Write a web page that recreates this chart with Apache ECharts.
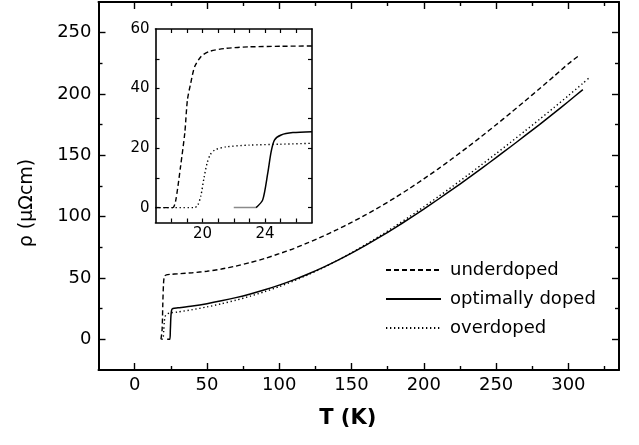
<!DOCTYPE html>
<html>
<head>
<meta charset="utf-8">
<script src="https://cdn.jsdelivr.net/npm/echarts@6/dist/echarts.min.js"></script>
<style>
  html, body { margin: 0; padding: 0; background: #fff; }
  #chart { width: 639px; height: 445px; }
</style>
</head>
<body>
<div id="chart"></div>
<script>
// Resistivity ρ(T) of three samples: full range and a close-up of the superconducting transition.

// ---- main panel: underdoped ----
const underT   = [18.2, 19.0, 19.5, 20.0, 20.6, 22, 25, 30, 40, 50, 60, 70, 80, 90, 100, 110, 120, 130, 140, 150,
                  160, 170, 180, 190, 200, 210, 220, 230, 240, 250, 260, 270, 280, 290, 300, 307.5];
const underRho = [0, 8, 30, 46, 51.5, 52.6, 53, 53.4, 54.3, 55.5, 57.3, 59.7, 62.6, 65.9, 69.8, 74, 78.8, 83.9, 89.4, 95.3,
                  101.6, 108.3, 115.4, 122.9, 130.8, 139, 147.6, 156.4, 165.5, 174.9, 184.5, 194.3, 204.3, 214.4, 224.7, 231.5];

// ---- main panel: optimally doped ----
const optT   = [22.5, 24.3, 24.7, 25.1, 25.6, 26.5, 30, 40, 50, 60, 70, 80, 90, 100, 110, 120, 130, 140, 150,
                160, 170, 180, 190, 200, 210, 220, 230, 240, 250, 260, 270, 280, 290, 300, 310];
const optRho = [0, 0, 8, 19, 24, 25.2, 25.7, 27.2, 29.1, 31.4, 34, 37, 40.4, 44.2, 48.5, 53.3, 58.5, 64.2, 70.3,
                76.8, 83.7, 90.9, 98.4, 106.2, 114.2, 122.4, 130.8, 139.4, 148.1, 157, 166, 175.1, 184.4, 193.9, 203.6];

// ---- main panel: overdoped ----
const overT   = [18.5, 19.6, 20.1, 20.5, 21, 22, 24, 30, 40, 50, 60, 70, 80, 90, 100, 110, 120, 130, 140, 150,
                 160, 170, 180, 190, 200, 210, 220, 230, 240, 250, 260, 270, 280, 290, 300, 310, 314];
const overRho = [0, 0.5, 7, 14, 18.5, 20.2, 21.4, 22.3, 24.2, 26.4, 29, 31.9, 35.2, 38.9, 43, 47.6, 52.7, 58.2, 64.2, 70.6,
                 77.4, 84.6, 92.1, 99.9, 108, 116.3, 124.8, 133.5, 142.4, 151.4, 160.6, 169.9, 179.3, 188.9, 198.7, 208.7, 212.8];

// ---- inset: transition region ----
const inUnderT   = [17, 18.1, 18.3, 18.6, 18.87, 19.04, 19.25, 19.5, 19.9, 20.4, 21.5, 23, 25, 27];
const inUnderRho = [0, 0, 2.6, 13.8, 25, 36.2, 41.8, 47.3, 50.7, 52.4, 53.5, 54, 54.2, 54.3];

const inOverT   = [17, 19.5, 19.7, 19.9, 20.1, 20.3, 20.5, 20.8, 21.5, 23, 25, 27];
const inOverRho = [0, 0, 0.8, 4, 10, 15, 17.8, 19.4, 20.4, 21, 21.3, 21.6];

const inOptBaseT   = [22, 23.43];
const inOptBaseRho = [0, 0];
const inOptT   = [23.43, 23.85, 24.17, 24.39, 24.6, 25.03, 25.78, 27];
const inOptRho = [0, 2.6, 11.5, 18.8, 22.7, 24.4, 25.2, 25.5];

// ---- ticks and labels ----
const mainXLabels = [0, 50, 100, 150, 200, 250, 300];
const mainXMinor  = [25, 75, 125, 175, 225, 275, 325];
const mainYLabels = [0, 50, 100, 150, 200, 250];
const mainYMinor  = [25, 75, 125, 175, 225];
const insetXTicks  = [18, 19, 20, 21, 22, 23, 24, 25, 26];
const insetXLabels = [20, 24];
const insetYTicks  = [0, 10, 20, 30, 40, 50];
const insetYLabels = [0, 20, 40, 60];

const seriesNames = ['underdoped', 'optimally doped', 'overdoped'];

const FONT = 'DejaVu Sans';
const INK = '#000';

function pairs(xs, ys) { return xs.map((x, i) => [x, ys[i]]); }

// one axis on one side of a grid: either the framed, labelled one or a ticks-only companion
function makeAxis(cfg) {
  return {
    type: 'value',
    gridIndex: cfg.grid,
    position: cfg.position,
    min: cfg.min,
    max: cfg.max,
    axisLine: { show: !!cfg.line, onZero: false, lineStyle: { color: INK, width: cfg.lineWidth || 2 } },
    axisTick: {
      show: true, inside: true, length: cfg.tickLen,
      customValues: cfg.ticks,
      lineStyle: { color: INK, width: cfg.tickWidth || 1.4 }
    },
    axisLabel: cfg.labels ? {
      show: true, customValues: cfg.labels, color: INK,
      fontFamily: FONT, fontSize: cfg.fontSize, margin: cfg.margin
    } : { show: false },
    splitLine: { show: false },
    minorTick: { show: false },
    name: cfg.name || '',
    nameLocation: 'middle',
    nameGap: cfg.nameGap || 0,
    nameRotate: cfg.nameRotate,
    nameTextStyle: cfg.nameTextStyle,
    silent: true
  };
}

const MX = { min: -25, max: 335 };
const MY = { min: -25, max: 275 };
const IX = { min: 17, max: 27 };
const IY = { min: -5, max: 60 };

const xAxes = [
  makeAxis({ grid: 0, position: 'bottom', ...MX, line: true, tickLen: 7, ticks: mainXLabels,
             labels: mainXLabels, fontSize: 18, margin: 6,
             name: 'T (K)', nameGap: 38,
             nameTextStyle: { color: INK, fontFamily: FONT, fontSize: 21, fontWeight: 'bold',
                              padding: [0, 22, 0, 0] } }),
  makeAxis({ grid: 0, position: 'bottom', ...MX, tickLen: 4, ticks: mainXMinor }),
  makeAxis({ grid: 0, position: 'top', ...MX, line: true, tickLen: 7, ticks: mainXLabels }),
  makeAxis({ grid: 0, position: 'top', ...MX, tickLen: 4, ticks: mainXMinor }),
  makeAxis({ grid: 1, position: 'bottom', ...IX, line: true, lineWidth: 1.6, tickLen: 4, tickWidth: 1.2,
             ticks: insetXTicks, labels: insetXLabels, fontSize: 15, margin: 4 }),
  makeAxis({ grid: 1, position: 'top', ...IX, line: true, lineWidth: 1.6, tickLen: 4, tickWidth: 1.2,
             ticks: insetXTicks })
];

const yAxes = [
  makeAxis({ grid: 0, position: 'left', ...MY, line: true, tickLen: 7, ticks: mainYLabels,
             labels: mainYLabels, fontSize: 18, margin: 7,
             name: 'ρ (μΩcm)', nameGap: 62, nameRotate: 90,
             nameTextStyle: { color: INK, fontFamily: FONT, fontSize: 19, padding: [0, 34, 0, 0] } }),
  makeAxis({ grid: 0, position: 'left', ...MY, tickLen: 4, ticks: mainYMinor }),
  makeAxis({ grid: 0, position: 'right', ...MY, line: true, tickLen: 7, ticks: mainYLabels }),
  makeAxis({ grid: 0, position: 'right', ...MY, tickLen: 4, ticks: mainYMinor }),
  makeAxis({ grid: 1, position: 'left', ...IY, line: true, lineWidth: 1.6, tickLen: 4, tickWidth: 1.2,
             ticks: insetYTicks, labels: insetYLabels, fontSize: 15, margin: 6 }),
  makeAxis({ grid: 1, position: 'right', ...IY, line: true, lineWidth: 1.6, tickLen: 4, tickWidth: 1.2,
             ticks: insetYTicks })
];

const dashStyle  = { color: INK, width: 1.4, type: [5, 3] };
const solidStyle = { color: INK, width: 1.5, type: 'solid' };
const dotStyle   = { color: INK, width: 1.4, type: [1.3, 2.7] };

function line(name, data, style, xi, yi, extra) {
  return Object.assign({
    type: 'line', name, data,
    xAxisIndex: xi, yAxisIndex: yi,
    symbol: 'none', showSymbol: false,
    smooth: 0.25,
    lineStyle: style, itemStyle: { color: INK },
    emphasis: { disabled: true },
    silent: true
  }, extra || {});
}

const series = [
  line(seriesNames[0], pairs(underT, underRho), dashStyle, 0, 0),
  line(seriesNames[1], pairs(optT, optRho), solidStyle, 0, 0),
  line(seriesNames[2], pairs(overT, overRho), dotStyle, 0, 0),
  line(seriesNames[0], pairs(inUnderT, inUnderRho), dashStyle, 4, 4),
  line(seriesNames[2], pairs(inOverT, inOverRho), dotStyle, 4, 4),
  line('optimally doped, base', pairs(inOptBaseT, inOptBaseRho),
       { color: '#8a8a8a', width: 1.5, type: 'solid' }, 4, 4, { smooth: false }),
  line(seriesNames[1], pairs(inOptT, inOptRho), solidStyle, 4, 4)
];

const chart = echarts.init(document.getElementById('chart'), null, { renderer: 'canvas' });
chart.setOption({
  animation: false,
  backgroundColor: '#fff',
  grid: [
    { left: 98.5, right: 20, top: 2, bottom: 75, containLabel: false },
    { left: 155.5, top: 29, width: 156.5, height: 193.5, show: true,
      backgroundColor: '#fff', borderWidth: 0, containLabel: false }
  ],
  legend: {
    data: seriesNames,
    orient: 'vertical',
    left: 380, top: 256,
    itemWidth: 55, itemHeight: 14, itemGap: 11,
    selectedMode: false,
    itemStyle: { opacity: 0 },
    textStyle: { color: INK, fontFamily: FONT, fontSize: 18, padding: [0, 0, 0, 4] }
  },
  xAxis: xAxes,
  yAxis: yAxes,
  series
});
</script>
</body>
</html>
